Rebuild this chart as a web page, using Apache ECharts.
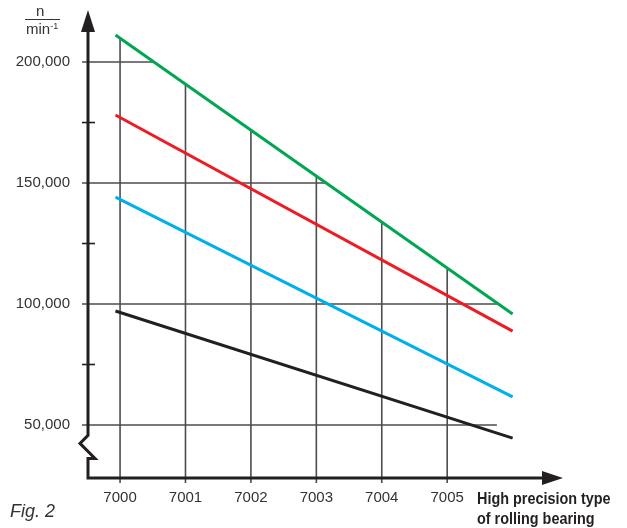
<!DOCTYPE html>
<html><head><meta charset="utf-8">
<script src="https://cdn.jsdelivr.net/npm/echarts@6/dist/echarts.min.js"></script>
<style>html,body{margin:0;padding:0;background:#fff}#c{width:627px;height:528px}</style>
</head><body><div id="c"></div>
<script>
// ---- data ----
const bearingTypes = [7000, 7001, 7002, 7003, 7004, 7005];
const lineX = [6999.93, 7006.0];
const greenSpeeds = [211200, 95900];
const redSpeeds = [178100, 88800];
const blueSpeeds = [144200, 61600];
const blackSpeeds = [97100, 44600];
const yLabelValues = [50000, 100000, 150000, 200000];
const yMinorTicks = [75000, 125000, 175000];

// ---- axis extents ----
const XMIN = 6999.51, XMAX = 7006.77, YMIN = 28100, YMAX = 221500;
const GRID_END_X = 7005.76;
const BREAK_Y = 39500;
const INK = '#231f20', GRIDC = '#4d4d4d';

function greenAt(x) {
  const t = (x - lineX[0]) / (lineX[1] - lineX[0]);
  return greenSpeeds[0] + t * (greenSpeeds[1] - greenSpeeds[0]);
}
function greenXAt(v) {
  const t = (v - greenSpeeds[0]) / (greenSpeeds[1] - greenSpeeds[0]);
  return lineX[0] + t * (lineX[1] - lineX[0]);
}
function pairs(ys) { return lineX.map((x, i) => [x, ys[i]]); }

const chart = echarts.init(document.getElementById('c'), null, {renderer: 'canvas'});
const FONT = 'Liberation Sans, Arial, sans-serif';

const option = {
  animation: false,
  grid: {left: 88, right: 64, top: 10, bottom: 50},
  xAxis: {
    type: 'value', min: XMIN, max: XMAX,
    axisLine: {show: false}, axisTick: {show: false}, splitLine: {show: false},
    axisLabel: {customValues: bearingTypes, margin: 12, fontFamily: FONT, fontSize: 15, color: '#333',
      formatter: v => String(Math.round(v))}
  },
  yAxis: {
    type: 'value', min: YMIN, max: YMAX,
    axisLine: {show: false}, axisTick: {show: false}, splitLine: {show: false},
    axisLabel: {customValues: yLabelValues, margin: 18, fontFamily: FONT, fontSize: 15, color: '#333',
      formatter: v => Math.round(v).toLocaleString('en-US')}
  },
  series: [
    { // vertical grid lines + x ticks
      type: 'custom', clip: false, z: 1, silent: true,
      data: bearingTypes.map(v => [v, YMIN]),
      renderItem: (params, api) => {
        const x = api.value(0);
        const b = api.coord([x, YMIN]);
        const t = api.coord([x, greenAt(x)]);
        return {type: 'line', shape: {x1: b[0], y1: b[1] + 5, x2: t[0], y2: t[1]},
          style: {stroke: GRIDC, lineWidth: 1.6}};
      }
    },
    { // horizontal grid lines
      type: 'custom', clip: false, z: 1, silent: true,
      data: yLabelValues.map(v => [XMIN, v]),
      renderItem: (params, api) => {
        const v = api.value(1);
        const a = api.coord([XMIN, v]);
        const e = api.coord([Math.min(greenXAt(v), GRID_END_X), v]);
        return {type: 'line', shape: {x1: a[0] - 6, y1: a[1], x2: e[0], y2: e[1]},
          style: {stroke: GRIDC, lineWidth: 1.6}};
      }
    },
    { // minor y ticks
      type: 'custom', clip: false, z: 1, silent: true,
      data: yMinorTicks.map(v => [XMIN, v]),
      renderItem: (params, api) => {
        const a = api.coord([XMIN, api.value(1)]);
        return {type: 'line', shape: {x1: a[0] - 6, y1: a[1], x2: a[0] + 7, y2: a[1]},
          style: {stroke: INK, lineWidth: 1.6}};
      }
    },
    { // axes with arrows and break
      type: 'custom', clip: false, z: 5, silent: true,
      data: [[XMIN, YMIN]],
      renderItem: (params, api) => {
        const o = api.coord([XMIN, YMIN]);
        const tp = api.coord([XMIN, YMAX]);
        const br = api.coord([XMIN, BREAK_Y]);
        const rt = api.coord([XMAX, YMIN]);
        const x = o[0];
        return {type: 'group', children: [
          {type: 'polyline', shape: {points: [
            [x, tp[1] + 18], [x, br[1] - 15], [x - 8, br[1] - 7], [x + 7, br[1] + 8],
            [x, br[1] + 8], [x, o[1]], [rt[0] - 18, o[1]]]},
            style: {stroke: INK, lineWidth: 3, fill: null, lineJoin: 'miter'}},
          {type: 'polygon', shape: {points: [[x, tp[1]], [x - 7, tp[1] + 22], [x + 7, tp[1] + 22]]},
            style: {fill: INK}},
          {type: 'polygon', shape: {points: [[rt[0], o[1]], [rt[0] - 21, o[1] - 7], [rt[0] - 21, o[1] + 7]]},
            style: {fill: INK}}
        ]};
      }
    },
    {type: 'line', name: 'green', data: pairs(greenSpeeds), symbol: 'none', z: 3,
      lineStyle: {color: '#00a651', width: 3}},
    {type: 'line', name: 'red', data: pairs(redSpeeds), symbol: 'none', z: 3,
      lineStyle: {color: '#ed1c24', width: 3}},
    {type: 'line', name: 'blue', data: pairs(blueSpeeds), symbol: 'none', z: 3,
      lineStyle: {color: '#00aeef', width: 3}},
    {type: 'line', name: 'black', data: pairs(blackSpeeds), symbol: 'none', z: 3,
      lineStyle: {color: INK, width: 3}}
  ],
  graphic: [
    {type: 'text', left: 36, top: 4, style: {text: 'n', font: '15px ' + FONT, fill: '#333'}},
    {type: 'line', shape: {x1: 25, y1: 19.5, x2: 60, y2: 19.5}, style: {stroke: '#333', lineWidth: 1.2}},
    {type: 'text', left: 26, top: 22, style: {
      text: '{a|min}{s|-1}', rich: {
        a: {font: '15px ' + FONT, fill: '#333'},
        s: {font: '9px ' + FONT, fill: '#333', verticalAlign: 'top', padding: [0, 0, 4, 0]}
      }}},
    {type: 'text', x: 477, y: 490, scaleX: 0.9, style: {
      text: 'High precision type\nof rolling bearing',
      font: 'bold 16px Liberation Sans, Arial, sans-serif',
      fill: '#231f20', lineHeight: 20}},
    {type: 'text', left: 10, top: 503, style: {text: 'Fig. 2', font: 'italic 18px ' + FONT, fill: '#333'}}
  ]
};
chart.setOption(option);
</script>
</body></html>
